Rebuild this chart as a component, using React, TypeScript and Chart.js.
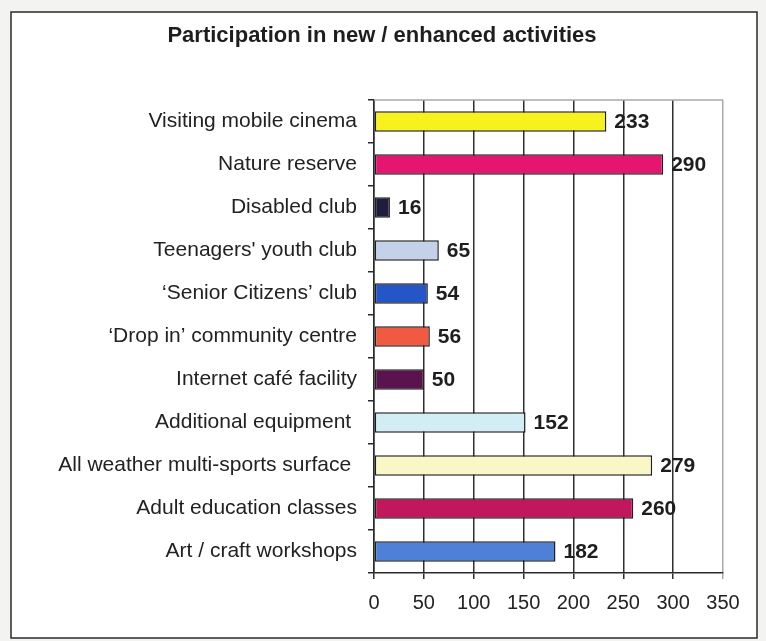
import React, { useEffect, useRef } from "react";
import { Chart, registerables } from "chart.js";

Chart.register(...registerables);

const TITLE = "Participation in new / enhanced activities";

const categories = [
  "Visiting mobile cinema",
  "Nature reserve",
  "Disabled club",
  "Teenagers' youth club",
  "\u2018Senior Citizens\u2019 club",
  "\u2018Drop in\u2019 community centre",
  "Internet caf\u00e9 facility",
  "Additional equipment ",
  "All weather multi-sports surface ",
  "Adult education classes",
  "Art / craft workshops",
];

const values = [233, 290, 16, 65, 54, 56, 50, 152, 279, 260, 182];

const barColors = [
  "#F7F21E",
  "#E5166F",
  "#1E1D3E",
  "#C3D2E9",
  "#2456C8",
  "#EF5A40",
  "#5B1350",
  "#D3EDF5",
  "#F9F7C6",
  "#C2175D",
  "#4D80D6",
];

const xTickMax = 350;
const xTickStep = 50;

const FONT = "'Liberation Sans', Arial, sans-serif";

export default function App() {
  const ref = useRef<HTMLCanvasElement | null>(null);

  useEffect(() => {
    const canvas = ref.current;
    if (!canvas) return;

    const framePlugin = {
      id: "frame",
      beforeDraw(chart: any) {
        const ctx = chart.ctx;
        ctx.save();
        ctx.fillStyle = "#f3f3f1";
        ctx.fillRect(0, 0, chart.width, chart.height);
        ctx.fillStyle = "#ffffff";
        ctx.fillRect(11, 12, 746, 626);
        ctx.strokeStyle = "#2a2a2a";
        ctx.lineWidth = 1.5;
        ctx.strokeRect(11, 12, 746, 626);
        ctx.restore();
      },
      beforeDatasetsDraw(chart: any) {
        const { ctx, chartArea } = chart;
        ctx.save();
        ctx.strokeStyle = "#a8a8a8";
        ctx.lineWidth = 1.5;
        ctx.beginPath();
        ctx.moveTo(chartArea.left, chartArea.top);
        ctx.lineTo(chartArea.right, chartArea.top);
        ctx.stroke();
        ctx.restore();
      },
      afterDraw(chart: any) {
        const ctx = chart.ctx;
        ctx.save();
        ctx.fillStyle = "#1e1e1e";
        ctx.font = `bold 22px ${FONT}`;
        ctx.textAlign = "center";
        ctx.textBaseline = "middle";
        ctx.fillText(TITLE, 382, 36);
        ctx.restore();
      },
      afterDatasetsDraw(chart: any) {
        const ctx = chart.ctx;
        const meta = chart.getDatasetMeta(0);
        ctx.save();
        ctx.fillStyle = "#1e1e1e";
        ctx.font = `bold 21px ${FONT}`;
        ctx.textAlign = "left";
        ctx.textBaseline = "middle";
        meta.data.forEach((bar: any, i: number) => {
          ctx.fillText(String(values[i]), bar.x + 8, bar.y + 1);
        });
        ctx.restore();
      },
    };

    const chart = new Chart(canvas, {
      type: "bar",
      data: {
        labels: categories,
        datasets: [
          {
            data: values,
            backgroundColor: barColors,
            borderColor: "#1f1f1f",
            borderWidth: 1.5,
            borderSkipped: false,
            categoryPercentage: 1,
            barPercentage: 0.48,
          },
        ],
      },
      options: {
        indexAxis: "y",
        responsive: false,
        animation: false,
        devicePixelRatio: 1,
        layout: { padding: { top: 100, right: 43, left: 0, bottom: 0 } },
        plugins: {
          legend: { display: false },
          title: { display: false },
          tooltip: { enabled: false },
        },
        scales: {
          y: {
            type: "category",
            offset: true,
            grid: {
              offset: true,
              drawOnChartArea: false,
              drawTicks: true,
              tickLength: 6,
              color: "#2a2a2a",
              lineWidth: 1.5,
            },
            border: { color: "#2a2a2a", width: 1.5 },
            ticks: {
              color: "#222222",
              font: { family: FONT, size: 21 },
              padding: 11,
              autoSkip: false,
            },
            afterFit(scale: any) {
              scale.width = 374;
            },
          },
          x: {
            min: 0,
            max: xTickMax,
            grid: {
              color: (c: any) =>
                c.tick && c.tick.value === xTickMax ? "#a8a8a8" : "#2e2e2e",
              lineWidth: 1.5,
              drawTicks: true,
              tickLength: 6,
            },
            border: { color: "#2a2a2a", width: 1.5 },
            ticks: {
              stepSize: xTickStep,
              color: "#222222",
              font: { family: FONT, size: 20 },
              padding: 12,
            },
            afterFit(scale: any) {
              scale.height = 68;
            },
          },
        },
      },
      plugins: [framePlugin],
    } as any);

    return () => chart.destroy();
  }, []);

  return (
    <div style={{ position: "absolute", left: 0, top: 0, width: 766, height: 641 }}>
      <canvas ref={ref} width={766} height={641} style={{ width: 766, height: 641, display: "block" }} />
    </div>
  );
}
